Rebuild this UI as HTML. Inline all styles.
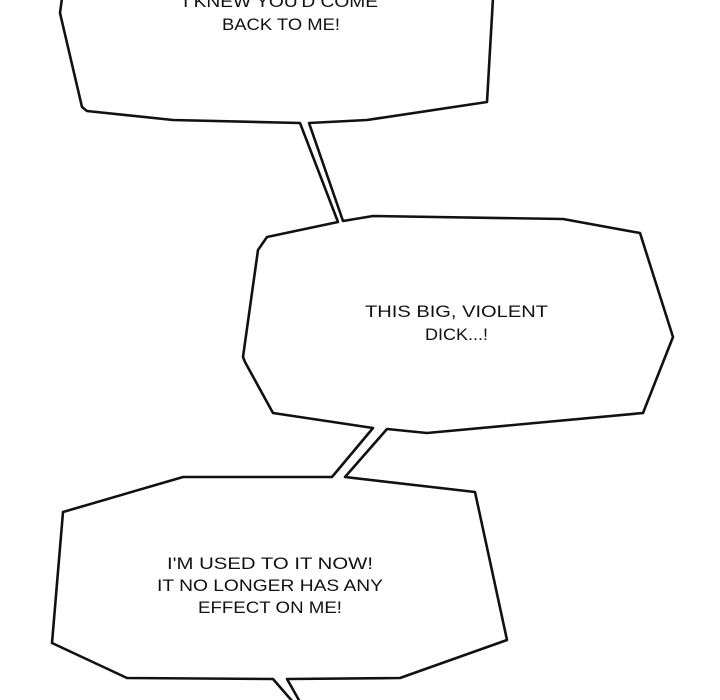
<!DOCTYPE html>
<html><head><meta charset="utf-8"><style>
html,body{margin:0;padding:0;background:#fff;}
svg{display:block;}
text{font-family:"Liberation Sans",sans-serif;font-size:17px;fill:#111;text-anchor:start;}
</style></head><body>
<svg width="720" height="700" viewBox="0 0 720 700" xmlns="http://www.w3.org/2000/svg">
<g fill="none" stroke="#111" stroke-width="2.6" stroke-linejoin="round">
<polyline points="62,-2 60,13 82,107 87,111 173,120 300,123 338,222 267,237 258,250 243,357 245,362 273,413 373,428 332,477 183,477 63,512 52,643 127,678 273,679 293,702"/>
<polyline points="493,-2 487,102 367,120 309,123 343,221 373,216 563,219 640,233 673,337 643,413 427,433 387,429 345,477 475,492 507,640 400,678 287,679 300,702"/>
</g>
<text x="183" y="7" textLength="195" lengthAdjust="spacingAndGlyphs">I KNEW YOU'D COME</text>
<text x="222" y="30" textLength="118" lengthAdjust="spacingAndGlyphs">BACK TO ME!</text>
<text x="365" y="317" textLength="183" lengthAdjust="spacingAndGlyphs">THIS BIG, VIOLENT</text>
<text x="425" y="340" textLength="63" lengthAdjust="spacingAndGlyphs">DICK...!</text>
<text x="167" y="569" textLength="206" lengthAdjust="spacingAndGlyphs">I'M USED TO IT NOW!</text>
<text x="157" y="591" textLength="226" lengthAdjust="spacingAndGlyphs">IT NO LONGER HAS ANY</text>
<text x="198" y="613" textLength="144" lengthAdjust="spacingAndGlyphs">EFFECT ON ME!</text>
</svg>
</body></html>
